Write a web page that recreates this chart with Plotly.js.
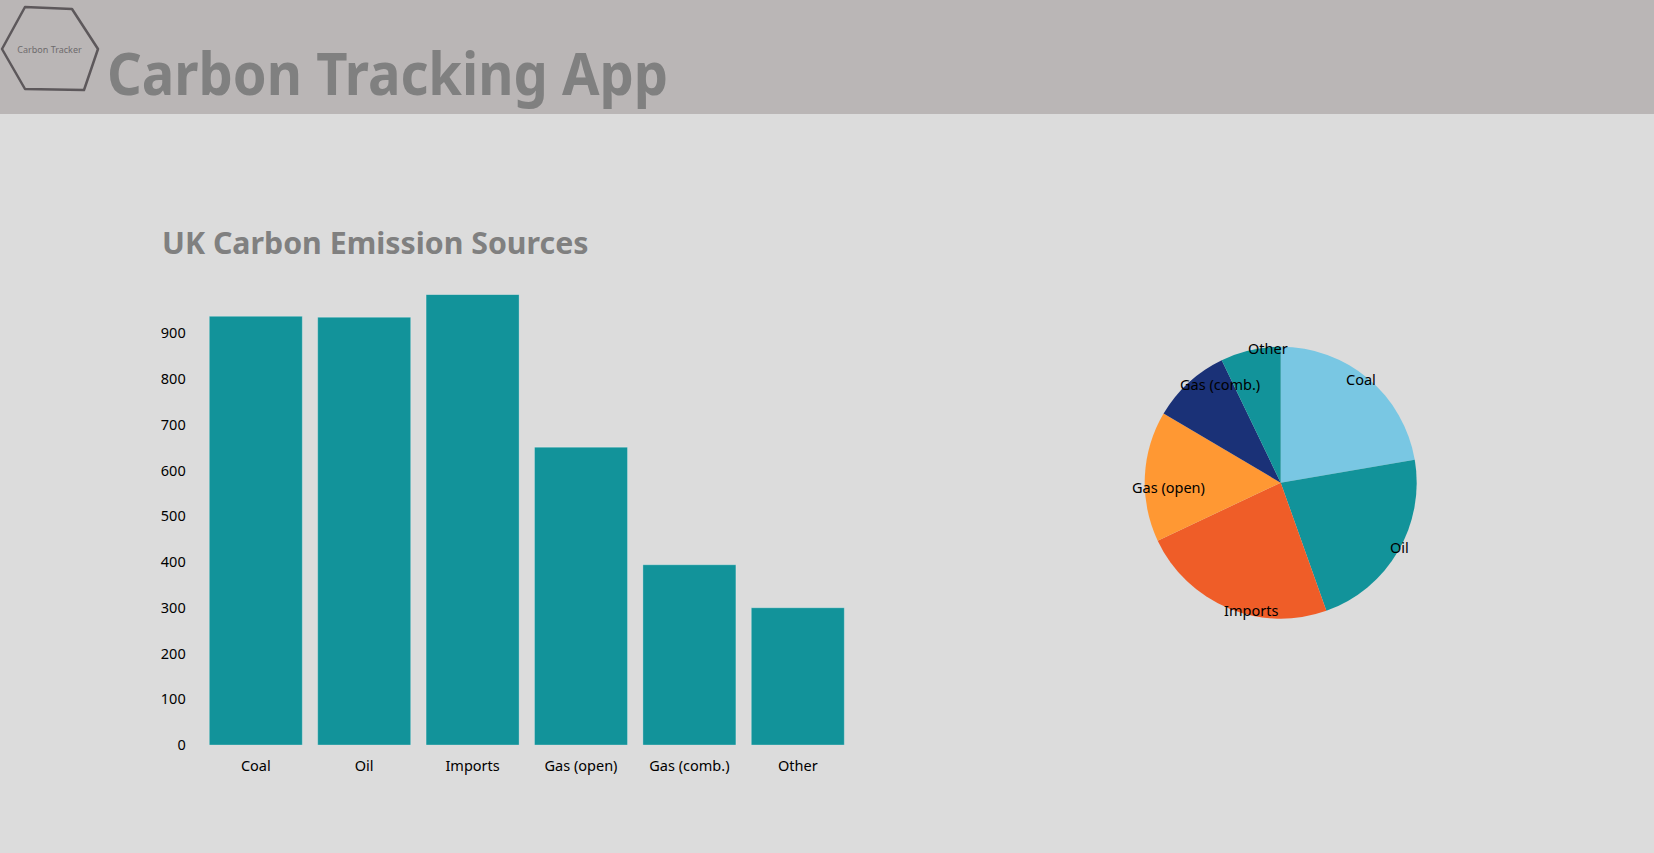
<!DOCTYPE html>
<html>
<head>
<meta charset="utf-8">
<script src="https://cdn.plot.ly/plotly-3.0.1.min.js"></script>
<style>
  html, body { margin:0; padding:0; width:1654px; height:853px; background:#dcdcdc; overflow:hidden; }
  #header { position:absolute; left:0; top:0; width:1654px; height:114px; }
  #chart { position:absolute; left:0; top:114px; width:1654px; height:739px; }
</style>
</head>
<body>
<svg id="header" width="1654" height="114" xmlns="http://www.w3.org/2000/svg">
  <rect x="0" y="0" width="1654" height="114" fill="#bab6b6"/>
  <path d="M2,49 L25,7 L72,9 L98,49 L84,90 L25,89 Z" fill="none" stroke="#5d585b" stroke-width="2.5" stroke-linejoin="round"/>
  <text x="49.5" y="53" text-anchor="middle" font-family="Noto Sans, sans-serif" font-size="9" fill="#6e6b6d">Carbon Tracker</text>
  <text id="appTitle" x="107" y="95" font-family="Noto Sans, sans-serif" font-weight="bold" font-size="59" fill="#808080" textLength="561" lengthAdjust="spacingAndGlyphs">Carbon Tracking App</text>
</svg>
<div id="chart"></div>
<script>
// ---- data ----
const categories = ['Coal', 'Oil', 'Imports', 'Gas (open)', 'Gas (comb.)', 'Other'];
const emissions = [937, 935, 985, 651, 394, 300];
const yTickValues = [0, 100, 200, 300, 400, 500, 600, 700, 800, 900];
const barColor = '#12939A';
const pieColors = ['#79C7E3', '#12939A', '#EF5D28', '#FF9833', '#1A3177', '#12939A'];
const chartTitle = 'UK Carbon Emission Sources';

// ---- geometry (page layout) ----
const W = 1654, H = 739;
const pieCx = 1280.7, pieCy = 368.7, pieR = 136;
const labelRadiusMultiplier = 1.1;
const pieDomain = {
  x: [(pieCx - pieR) / W, (pieCx + pieR) / W],
  y: [(H - pieCy - pieR) / H, (H - pieCy + pieR) / H]
};

const font = 'Noto Sans, Open Sans, sans-serif';

const barTrace = {
  type: 'bar',
  x: categories,
  y: emissions,
  marker: { color: barColor, line: { color: 'rgba(255,255,255,0.28)', width: 1 } },
  hoverinfo: 'none',
  xaxis: 'x', yaxis: 'y'
};

const pieTrace = {
  type: 'pie',
  labels: categories,
  values: emissions,
  sort: false,
  direction: 'clockwise',
  rotation: 0,
  textinfo: 'none',
  hoverinfo: 'none',
  showlegend: false,
  marker: { colors: pieColors, line: { width: 0 } },
  domain: pieDomain
};

// pie labels placed at slice mid-angles (radius x1.1), text running inward
const total = emissions.reduce((a, b) => a + b, 0);
let cum = 0;
const annotations = categories.map((c, i) => {
  const mid = (cum + emissions[i] / 2) / total * 2 * Math.PI;
  cum += emissions[i];
  const rr = labelRadiusMultiplier * pieR;
  const s = Math.sin(mid), co = Math.cos(mid);
  const px = pieCx + rr * s;
  const py = pieCy - rr * co;
  return {
    text: c, x: px / W, y: 1 - py / H, xref: 'paper', yref: 'paper',
    xanchor: s >= 0 ? 'right' : 'left',
    yanchor: co >= 0 ? 'top' : 'bottom',
    showarrow: false, borderpad: 0,
    font: { family: font, size: 14.5, color: '#000' }
  };
});

const layout = {
  width: W, height: H,
  margin: { l: 0, r: 0, t: 0, b: 0 },
  paper_bgcolor: 'rgba(0,0,0,0)',
  plot_bgcolor: 'rgba(0,0,0,0)',
  showlegend: false,
  bargap: 0.142,
  title: {
    text: chartTitle,
    x: 162 / W, xanchor: 'left', xref: 'container',
    y: 1 - 140 / H, yanchor: 'bottom', yref: 'container',
    font: { family: font, size: 30.3, color: '#808080', weight: 'bold' }
  },
  xaxis: {
    domain: [201.6 / W, 852 / W],
    showgrid: false, zeroline: false, showline: false,
    ticks: 'outside', ticklen: 8, tickcolor: 'rgba(0,0,0,0)',
    tickfont: { family: font, size: 14.5, color: '#000' },
    fixedrange: true
  },
  yaxis: {
    domain: [(H - 631) / H, (H - 180.4) / H],
    range: [0, 985],
    tickvals: yTickValues,
    showgrid: false, zeroline: false, showline: false,
    ticks: 'outside', ticklen: 12, tickcolor: 'rgba(0,0,0,0)',
    tickfont: { family: font, size: 14.5, color: '#000' },
    fixedrange: true
  },
  annotations: annotations
};

Plotly.newPlot('chart', [barTrace, pieTrace], layout, { staticPlot: true, displayModeBar: false });
</script>
</body>
</html>
